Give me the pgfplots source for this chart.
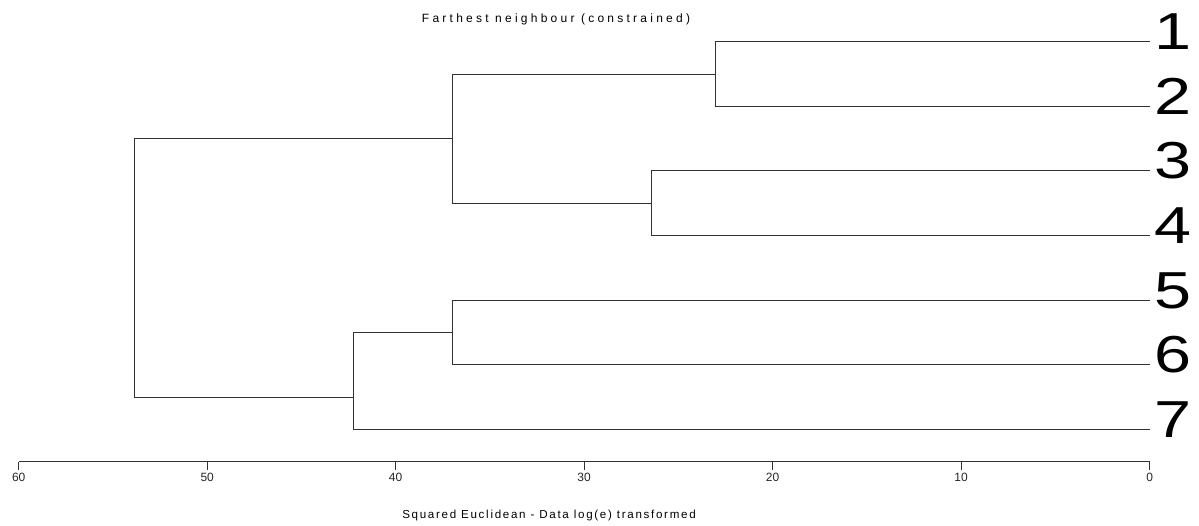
\documentclass[border=0pt]{standalone}
\usepackage{fontspec}
\setmainfont{Liberation Sans}
\usepackage{pgfplots}
\pgfplotsset{compat=1.18}
\newfontfamily\spacedA[LetterSpace=27]{Liberation Sans}
\newfontfamily\spacedB[LetterSpace=14.6]{Liberation Sans}
\begin{document}
\begin{tikzpicture}
\path[use as bounding box] (0,0) rectangle (1199bp,-526bp);
\node[anchor=base,inner sep=0] at (556bp,-22.7bp) {\fontsize{12bp}{14bp}\spacedA Farthest neighbour (constrained)};
\node[anchor=base,inner sep=0] at (549bp,-518.3bp) {\fontsize{11.6bp}{14bp}\spacedB Squared Euclidean - Data log(e) transformed};
\begin{axis}[
  at={(18.7bp,-461.7bp)}, anchor=south west,
  scale only axis, width=1131bp, height=452.3bp,
  xmin=0, xmax=60, ymin=0.5, ymax=7.5,
  x dir=reverse, y dir=reverse,
  axis x line*=bottom, hide y axis,
  x axis line style={black!80, line width=1bp},
  xtick={0,10,20,30,40,50,60},
  tick align=outside, major tick length=8bp,
  xtick style={black!80, line width=1bp},
  /pgf/number format/assume math mode=true,
  xticklabel style={font=\fontsize{12bp}{14bp}\selectfont, text=black!85},
  clip=false,
  dendro/.style={black!80, solid, line width=1bp, mark=none},
]
\addplot[dendro] coordinates {(0,1) (23.05,1) (23.05,2) (0,2)};
\addplot[dendro] coordinates {(0,3) (26.44,3) (26.44,4) (0,4)};
\addplot[dendro] coordinates {(23.05,1.5) (37.0,1.5) (37.0,3.5) (26.44,3.5)};
\addplot[dendro] coordinates {(0,5) (37.0,5) (37.0,6) (0,6)};
\addplot[dendro] coordinates {(37.0,5.5) (42.25,5.5) (42.25,7) (0,7)};
\addplot[dendro] coordinates {(37.0,2.5) (53.83,2.5) (53.83,6.5) (42.25,6.5)};
\node[anchor=base west,inner sep=0,xshift=5bp,yshift=-8bp] at (axis cs:0,1) {\fontsize{52bp}{52bp}\selectfont\scalebox{1.28}[1]{1}};
\node[anchor=base west,inner sep=0,xshift=5bp,yshift=-8bp] at (axis cs:0,2) {\fontsize{52bp}{52bp}\selectfont\scalebox{1.28}[1]{2}};
\node[anchor=base west,inner sep=0,xshift=5bp,yshift=-8bp] at (axis cs:0,3) {\fontsize{52bp}{52bp}\selectfont\scalebox{1.28}[1]{3}};
\node[anchor=base west,inner sep=0,xshift=5bp,yshift=-8bp] at (axis cs:0,4) {\fontsize{52bp}{52bp}\selectfont\scalebox{1.28}[1]{4}};
\node[anchor=base west,inner sep=0,xshift=5bp,yshift=-8bp] at (axis cs:0,5) {\fontsize{52bp}{52bp}\selectfont\scalebox{1.28}[1]{5}};
\node[anchor=base west,inner sep=0,xshift=5bp,yshift=-8bp] at (axis cs:0,6) {\fontsize{52bp}{52bp}\selectfont\scalebox{1.28}[1]{6}};
\node[anchor=base west,inner sep=0,xshift=5bp,yshift=-8bp] at (axis cs:0,7) {\fontsize{52bp}{52bp}\selectfont\scalebox{1.28}[1]{7}};
\end{axis}
\end{tikzpicture}
\end{document}
